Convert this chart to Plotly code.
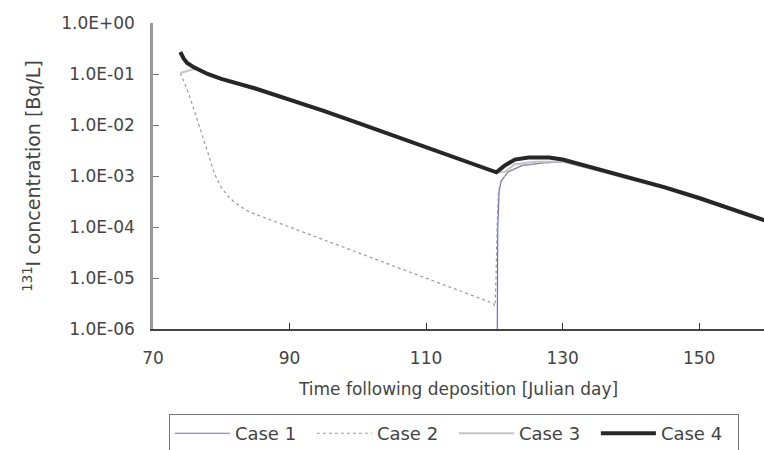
import plotly.graph_objects as go

case4_x = [74, 74.5, 75, 76, 78, 80, 85, 90, 95, 100, 105, 110, 115, 119, 120.3, 121.5, 123, 125, 128, 130, 135, 140, 145, 150, 155, 160]
case4_y = [0.27, 0.2, 0.165, 0.135, 0.1, 0.08, 0.052, 0.032, 0.019, 0.011, 0.0064, 0.0037, 0.0021, 0.0014, 0.00118, 0.0016, 0.0021, 0.0023, 0.0023, 0.0021, 0.0014, 0.00092, 0.0006, 0.00037, 0.00022, 0.00013]

case3_x = [74, 75, 76, 77, 78, 80, 85, 90, 95, 100, 105, 110, 115, 119, 120.3, 121.5, 123, 126, 130, 135, 140, 145, 150, 155, 160]
case3_y = [0.105, 0.115, 0.125, 0.115, 0.1, 0.08, 0.052, 0.032, 0.019, 0.011, 0.0064, 0.0037, 0.0021, 0.0014, 0.00118, 0.0012, 0.0017, 0.0019, 0.0019, 0.0013, 0.00085, 0.00056, 0.00035, 0.00021, 0.000125]

case2_x = [74, 75, 76, 77, 78, 79, 80, 81, 82, 84, 90, 100, 110, 119.8, 120.1, 120.25, 120.4, 120.6, 121, 122, 124, 127, 130, 135, 140, 145, 150, 155, 160]
case2_y = [0.105, 0.05, 0.02, 0.008, 0.003, 0.0011, 0.0006, 0.0004, 0.0003, 0.0002, 0.0001, 3.2e-05, 1e-05, 3.2e-06, 2.8e-06, 1e-05, 0.0001, 0.0005, 0.0008, 0.0012, 0.0016, 0.0018, 0.0019, 0.00135, 0.0009, 0.00058, 0.00035, 0.00021, 0.000125]

case1_x = [120.4, 120.5, 120.7, 121, 122, 124, 127, 130, 135, 140, 145, 150, 155, 160]
case1_y = [1e-07, 0.0001, 0.0005, 0.0008, 0.0012, 0.0016, 0.0018, 0.0019, 0.00135, 0.0009, 0.00058, 0.00035, 0.00021, 0.000125]

y_tickvals = [1, 1e-1, 1e-2, 1e-3, 1e-4, 1e-5, 1e-6]
y_ticktext = ["1.0E+00", "1.0E-01", "1.0E-02", "1.0E-03", "1.0E-04", "1.0E-05", "1.0E-06"]
x_tickvals = [70, 90, 110, 130, 150]

fig = go.Figure()
fig.add_trace(go.Scatter(x=case1_x, y=case1_y, mode="lines", name="Case 1",
                         line=dict(color="#6b6bd6", width=1.2)))
fig.add_trace(go.Scatter(x=case2_x, y=case2_y, mode="lines", name="Case 2",
                         line=dict(color="#9a9a9a", width=1.2, dash="dot")))
fig.add_trace(go.Scatter(x=case3_x, y=case3_y, mode="lines", name="Case 3",
                         line=dict(color="#c4c4c4", width=2)))
fig.add_trace(go.Scatter(x=case4_x, y=case4_y, mode="lines", name="Case 4",
                         line=dict(color="#262626", width=4)))

font = "DejaVu Sans, Noto Sans, sans-serif"
txt = "#444444"
fig.update_layout(
    width=764, height=450,
    margin=dict(l=153, r=0, t=23, b=121, autoexpand=False),
    paper_bgcolor="white", plot_bgcolor="white",
    font=dict(family=font, color=txt, size=17),
    xaxis=dict(range=[70, 159.5], tickvals=x_tickvals, ticks="inside", ticklen=6,
               tickcolor="#333", showgrid=False, zeroline=False,
               showline=True, linecolor="#444", linewidth=1.5,
               tickfont=dict(size=17, color=txt), ticklabelstandoff=13,
               title=dict(text="Time following deposition [Julian day]",
                          font=dict(size=17, color=txt), standoff=16)),
    yaxis=dict(type="log", range=[-6, 0], tickvals=y_tickvals, ticktext=y_ticktext,
               ticks="inside", ticklen=6, tickcolor="#777", showgrid=False,
               zeroline=False, showline=True, linecolor="#999", linewidth=2.5,
               tickfont=dict(size=17, color=txt), ticklabelstandoff=12,
               title=dict(text="<sup>131</sup>I concentration [Bq/L]",
                          font=dict(size=19, color=txt), standoff=16)),
    legend=dict(orientation="h", x=0.026, xanchor="left", y=-0.278, yanchor="top",
                bordercolor="#777", borderwidth=1, font=dict(size=18, color=txt),
                entrywidth=72, entrywidthmode="pixels", itemwidth=55,
                tracegroupgap=0),
    showlegend=True,
)

fig.write_html("out.html")
